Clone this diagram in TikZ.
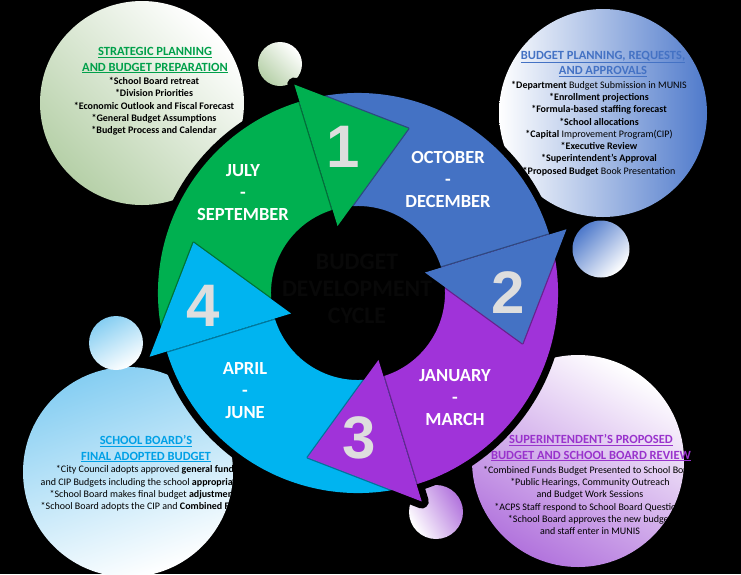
\documentclass[tikz,border=0pt]{standalone}
\usepackage{fontspec}
\setmainfont{Carlito}
\newfontfamily\digitfont{Liberation Sans}
\definecolor{cgreen}{HTML}{00B050}
\definecolor{cblue}{HTML}{4472C4}
\definecolor{cpurple}{HTML}{A033D9}
\definecolor{ccyan}{HTML}{00B4F0}
\definecolor{tgreen}{HTML}{00A04A}
\definecolor{tblue}{HTML}{4472C4}
\definecolor{tcyan}{HTML}{00A0E6}
\definecolor{tpurple}{HTML}{9933CC}
\definecolor{bgreen}{HTML}{B6D0A8}
\definecolor{bblue}{HTML}{4F7ACB}
\definecolor{bcyan}{HTML}{86CEF2}
\definecolor{bpurple}{HTML}{B274DD}
\definecolor{digface}{HTML}{DEDEDE}
\begin{document}
\begin{tikzpicture}[x=1pt,y=1pt,
  month/.style={text=white,font=\fontsize{18.5}{22}\selectfont\bfseries,align=center,inner sep=0pt},
  btitle/.style={font=\fontsize{12.5}{15.3}\selectfont\bfseries,align=center,inner sep=0pt},
  blist/.style={text=black,font=\fontsize{10}{12.3}\selectfont\bfseries,align=center,inner sep=0pt},
  digit/.style={text=digface,font=\digitfont\fontsize{60}{60}\selectfont\bfseries,inner sep=0pt},
  ringshadow/.style={draw=black,line width=14pt,line join=round},
  headedge/.style={draw=black,draw opacity=0.35,line width=2.5pt,line join=round}]
\fill[black] (0,0) rectangle (741,-574);
\useasboundingbox (0,0) rectangle (741,-574);
% bubbles
\shade[top color=white,middle color=white!80!bgreen,bottom color=bgreen,shading angle=-45] (142,-103) circle[radius=102];
\shade[top color=white,bottom color=bgreen,shading angle=-45] (280,-64) circle[radius=22];
\shade[top color=white,middle color=blue!8!white,bottom color=bblue,shading angle=90] (603,-113) circle[radius=104];
\shade[top color=bblue,bottom color=white,shading angle=45] (601,-249) circle[radius=28.5];
\shade[top color=bcyan,bottom color=white,shading angle=20] (128,-472) circle[radius=105];
\shade[top color=bcyan,bottom color=white,shading angle=30] (116,-343) circle[radius=27];
\shade[top color=white,bottom color=bpurple,shading angle=-30] (578,-461) circle[radius=106];
\shade[top color=bpurple,bottom color=white,shading angle=-60] (436,-512) circle[radius=27];
% bubble texts
\node[btitle,text=tgreen] (gtitle) at (155,-60.5) {\underline{STRATEGIC PLANNING}\\\underline{AND BUDGET PREPARATION}};
\node[blist] (glist) at (154,-106.5) {*School Board retreat\\*Division Priorities\\*Economic Outlook and Fiscal Forecast\\*General Budget Assumptions\\*Budget Process and Calendar};
\node[btitle,text=tblue] (btitle) at (603,-64) {\underline{BUDGET PLANNING, REQUESTS,}\\\underline{AND APPROVALS}};
\node[blist] (blistn) at (599,-128.5) {*Department {\mdseries Budget Submission in MUNIS}\\*Enrollment projections\\*Formula-based staffing forecast\\*School allocations\\*Capital {\mdseries Improvement Program(CIP)}\\*Executive Review\\*Superintendent’s Approval\\*Proposed Budget {\mdseries Book Presentation}};
\node[btitle,text=tcyan] (ctitle) at (146,-449) {\underline{SCHOOL BOARD’S}\\\underline{FINAL ADOPTED BUDGET}};
\node[blist,font=\fontsize{10}{12.3}\selectfont] (clist) at (145,-488.5) {*City Council adopts approved {\bfseries general fund}\\and CIP Budgets including the school {\bfseries appropriation}\\*School Board makes final budget {\bfseries adjustments}\\*School Board adopts the CIP and {\bfseries Combined Funds}};
\node[btitle,text=tpurple] (ptitle) at (591,-448) {\underline{SUPERINTENDENT’S PROPOSED}\\\underline{BUDGET AND SCHOOL BOARD REVIEW}};
\node[blist,font=\fontsize{10}{12.3}\selectfont] (plist) at (590,-500.5) {*Combined Funds Budget Presented to School Board\\*Public Hearings, Community Outreach\\and Budget Work Sessions\\*ACPS Staff respond to School Board Questions\\*School Board approves the new budget\\and staff enter in MUNIS};
% ring
\begin{scope}[shift={(358,-293)}]
  \path[ringshadow] (197:200) arc[start angle=197,end angle=-163,radius=200] -- (-163:87) arc[start angle=-163,end angle=197,radius=87] -- cycle;
  \path[ringshadow] (107:70) -- (107:218) -- (73:172) -- cycle;
  \path[ringshadow] (17:70) -- (17:218) -- (-17:172) -- cycle;
  \path[ringshadow] (-73:70) -- (-73:218) -- (-107:172) -- cycle;
  \path[ringshadow] (-163:70) -- (-163:218) -- (-197:172) -- cycle;
  % bodies
  \fill[cgreen] (197:200) arc[start angle=197,end angle=107,radius=200] -- (107:87) arc[start angle=107,end angle=197,radius=87] -- cycle;
  \fill[cblue] (107:200) arc[start angle=107,end angle=17,radius=200] -- (17:87) arc[start angle=17,end angle=107,radius=87] -- cycle;
  \fill[cpurple] (17:200) arc[start angle=17,end angle=-73,radius=200] -- (-73:87) arc[start angle=-73,end angle=17,radius=87] -- cycle;
  \fill[ccyan] (-73:200) arc[start angle=-73,end angle=-163,radius=200] -- (-163:87) arc[start angle=-163,end angle=-73,radius=87] -- cycle;
  % heads
  \path[headedge] (107:70) -- (107:218) -- (73:172) -- cycle;
  \fill[cgreen] (107:70) -- (107:218) -- (73:172) -- cycle;
  \path[headedge] (17:70) -- (17:218) -- (-17:172) -- cycle;
  \fill[cblue] (17:70) -- (17:218) -- (-17:172) -- cycle;
  \path[headedge] (-73:70) -- (-73:218) -- (-107:172) -- cycle;
  \fill[cpurple] (-73:70) -- (-73:218) -- (-107:172) -- cycle;
  \path[headedge] (-163:70) -- (-163:218) -- (-197:172) -- cycle;
  \fill[ccyan] (-163:70) -- (-163:218) -- (-197:172) -- cycle;
\end{scope}
% month labels
\node[month] (m1) at (243,-193) {JULY\\-\\SEPTEMBER};
\node[month] (m2) at (448,-179) {OCTOBER\\-\\DECEMBER};
\node[month] (m3) at (455,-398) {JANUARY\\-\\MARCH};
\node[month] (m4) at (245,-391) {APRIL\\-\\JUNE};
% digits
\node[digit] (d1) at (343,-147) {1};
\node[digit] (d2) at (508,-293) {2};
\node[digit] (d3) at (359,-438) {3};
\node[digit] (d4) at (203,-306) {4};
% centre title (black on black)
\node[text=black!97,font=\fontsize{23.7}{27}\selectfont\bfseries,align=center,inner sep=0pt] (centre) at (357,-289) {BUDGET\\DEVELOPMENT\\CYCLE};
\end{tikzpicture}
\end{document}
